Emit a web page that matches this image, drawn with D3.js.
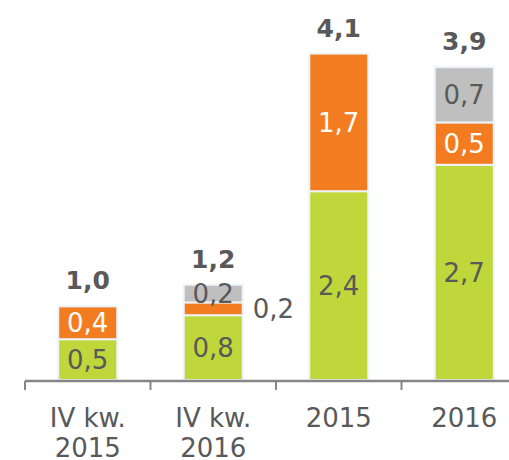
<!DOCTYPE html>
<html>
<head>
<meta charset="utf-8">
<script src="https://cdn.jsdelivr.net/npm/d3@7"></script>
<style>
  body { margin: 0; background: #fff; }
  text { font-family: "DejaVu Sans", Verdana, sans-serif; }
</style>
</head>
<body>
<script>
// Chart data
var categories = [["IV kw.", "2015"], ["IV kw.", "2016"], ["2015"], ["2016"]];
var green  = [0.51, 0.81, 2.36, 2.69];
var orange = [0.41, 0.16, 1.72, 0.53];
var gray   = [0, 0.22, 0, 0.69];
var totals = [1.0, 1.2, 4.1, 3.9];

var seriesKeys = ["green", "orange", "gray"];
var colors = { green: "#bfd73a", orange: "#f47c20", gray: "#bfbfbf" };
var labelColors = { green: "#595959", orange: "#ffffff", gray: "#595959" };

var width = 509, height = 460;
var baseY = 380;

var rows = categories.map(function(c, i) {
  return { i: i, green: green[i], orange: orange[i], gray: gray[i] };
});

var fmt = function(v) { return d3.format(".1f")(v).replace(".", ","); };

var svg = d3.select("body").append("svg")
    .attr("width", width)
    .attr("height", height);

var x = d3.scaleBand()
    .domain(d3.range(categories.length))
    .range([25, 527])
    .paddingInner(0.53)
    .paddingOuter(0.265);

var y = d3.scaleLinear()
    .domain([0, 4.75])
    .range([baseY, 0]);

var stack = d3.stack().keys(seriesKeys)(rows);

// Bars
stack.forEach(function(layer) {
  var key = layer.key;
  svg.append("g").selectAll("rect")
    .data(layer.filter(function(d) { return d[1] - d[0] > 0; }))
    .enter().append("rect")
      .attr("x", function(d) { return x(d.data.i); })
      .attr("y", function(d) { return y(d[1]); })
      .attr("width", x.bandwidth())
      .attr("height", function(d) { return y(d[0]) - y(d[1]); })
      .style("fill", colors[key])
      .style("stroke", "#edf3f8")
      .style("stroke-width", "2px");
});

// Segment labels
stack.forEach(function(layer) {
  var key = layer.key;
  layer.forEach(function(d) {
    var v = d[1] - d[0];
    if (v <= 0) return;
    var h = y(d[0]) - y(d[1]);
    var inside = h >= 16;
    svg.append("text")
        .attr("x", inside ? x(d.data.i) + x.bandwidth() / 2 : x(d.data.i) + x.bandwidth() + 10)
        .attr("y", (y(d[0]) + y(d[1])) / 2)
        .attr("dy", "0.36em")
        .style("text-anchor", inside ? "middle" : "start")
        .style("font-size", "26px")
        .style("fill", inside ? labelColors[key] : "#595959")
        .text(fmt(v));
  });
});

// Totals above each stack
var topLayer = stack[stack.length - 1];
topLayer.forEach(function(d, i) {
  svg.append("text")
      .attr("x", x(i) + x.bandwidth() / 2)
      .attr("y", y(d[1]) - 17)
      .style("text-anchor", "middle")
      .style("font-size", "25px")
      .style("font-weight", "bold")
      .style("fill", "#595959")
      .text(fmt(totals[i]));
});

// Axis
var step = x.step();
svg.append("line")
    .attr("x1", 25).attr("x2", width)
    .attr("y1", baseY + 1).attr("y2", baseY + 1)
    .style("stroke", "#868686")
    .style("stroke-width", "2.5px");

d3.range(categories.length + 1).forEach(function(i) {
  var tx = 25 + i * step;
  svg.append("line")
      .attr("x1", tx).attr("x2", tx)
      .attr("y1", baseY + 1).attr("y2", baseY + 10)
      .style("stroke", "#868686")
      .style("stroke-width", "2px");
});

categories.forEach(function(lines, i) {
  var t = svg.append("text")
      .attr("x", x(i) + x.bandwidth() / 2)
      .attr("y", 427)
      .style("text-anchor", "middle")
      .style("font-size", "26px")
      .style("fill", "#595959");
  lines.forEach(function(l, j) {
    t.append("tspan")
        .attr("x", x(i) + x.bandwidth() / 2)
        .attr("dy", j === 0 ? 0 : 30)
        .text(l);
  });
});
</script>
</body>
</html>
